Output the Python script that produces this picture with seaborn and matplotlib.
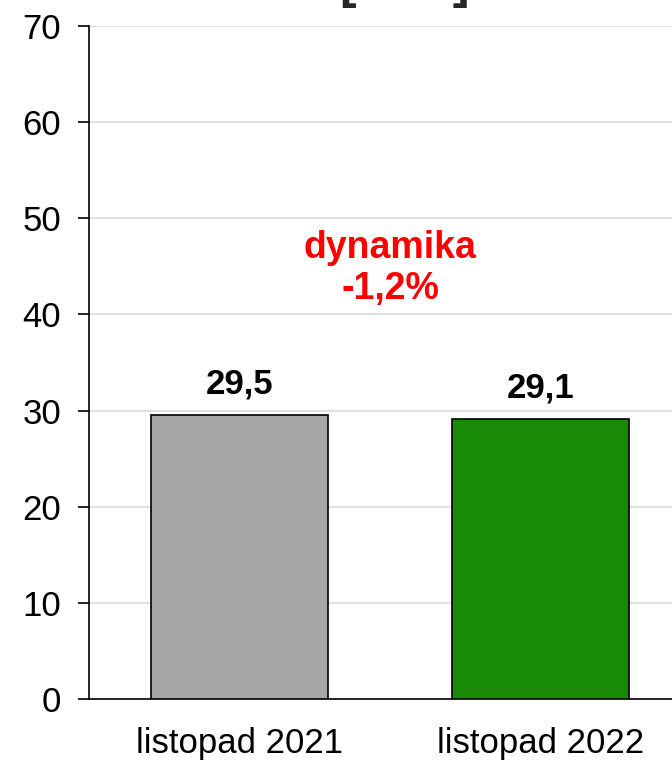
import matplotlib
matplotlib.use("Agg")
import matplotlib.pyplot as plt
import seaborn as sns
import pandas as pd

categories = ["listopad 2021", "listopad 2022"]
values = [29.5, 29.1]
value_labels = ["29,5", "29,1"]
colors = ["#a6a6a6", "#198a06"]
title = "[zł/hl]"
dyn_lines = ["dynamika", "-1,2%"]
yticks = [0, 10, 20, 30, 40, 50, 60, 70]

sns.set_theme(style="white")
plt.rcParams['font.family'] = ['Liberation Sans', 'DejaVu Sans']

df = pd.DataFrame({"cat": categories, "val": values})

fig = plt.figure(figsize=(6.72, 7.63), dpi=100)
ax = fig.add_axes([89/672, 64/763, 602/672, 673/763])

sns.barplot(data=df, x="cat", y="val", hue="cat", palette=colors, legend=False,
            saturation=1, width=0.588, edgecolor="black", linewidth=1.2, ax=ax, zorder=3)

ax.set_xlim(-0.5, 1.5)
ax.set_ylim(0, 70)
ax.set_yticks(yticks)
ax.set_yticklabels([str(t) for t in yticks], fontsize=25, color='black')
ax.tick_params(axis='x', labelsize=25, labelcolor='black', length=0, pad=20)
ax.tick_params(axis='y', length=8, width=1.2, color='black', direction='out', pad=12, left=True)
ax.set_xlabel("")
ax.set_ylabel("")
ax.grid(axis='y', color='#d9d9d9', linewidth=1.2, zorder=0)
ax.set_axisbelow(True)
for s in ['top', 'right']:
    ax.spines[s].set_visible(False)
for s in ['left', 'bottom']:
    ax.spines[s].set_color('black')
    ax.spines[s].set_linewidth(1.2)

for i, (v, lab) in enumerate(zip(values, value_labels)):
    ax.annotate(lab, (i, v), xytext=(0, 16), textcoords='offset points',
                ha='center', va='baseline', fontsize=25, fontweight='bold', color='black')

ax.text(0.5, 46.9, dyn_lines[0], ha='center', va='center', fontsize=27,
        fontweight='bold', color='#ff0000')
ax.text(0.5, 42.6, dyn_lines[1], ha='center', va='center', fontsize=27,
        fontweight='bold', color='#ff0000')

fig.text(405/672, 1 + 2/763, title, ha='center', va='baseline', fontsize=36, fontweight='bold')

fig.savefig("out.png", dpi=100)
